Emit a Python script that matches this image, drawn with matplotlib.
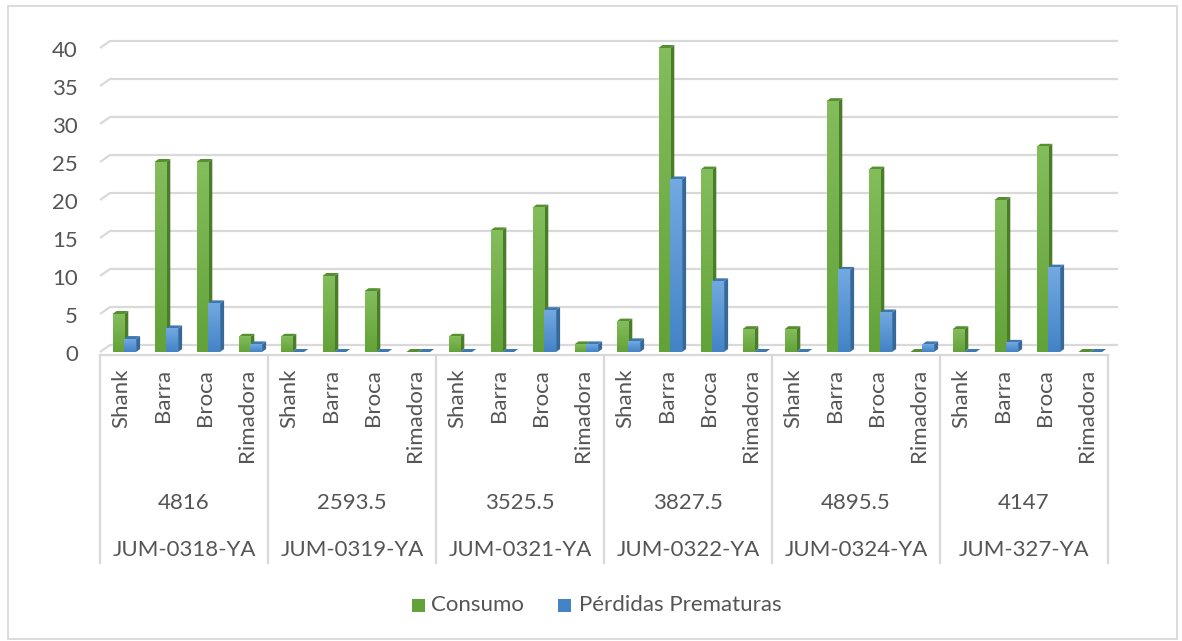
import numpy as np
import matplotlib
matplotlib.use("Agg")
import matplotlib.pyplot as plt
from matplotlib.patches import Polygon, Rectangle
from matplotlib.colors import LinearSegmentedColormap

# ---- data -------------------------------------------------------------
groups = ["JUM-0318-YA", "JUM-0319-YA", "JUM-0321-YA",
          "JUM-0322-YA", "JUM-0324-YA", "JUM-327-YA"]
group_values = ["4816", "2593.5", "3525.5", "3827.5", "4895.5", "4147"]
items = ["Shank", "Barra", "Broca", "Rimadora"]

consumo = [5, 25, 25, 2,
           2, 10, 8, 0,
           2, 16, 19, 1,
           4, 40, 24, 3,
           3, 33, 24, 0,
           3, 20, 27, 0]
perdidas = [1.7, 3.1, 6.4, 1.0,
            0, 0, 0, 0,
            0, 0, 5.5, 1.0,
            1.4, 22.7, 9.3, 0,
            0, 10.8, 5.2, 1.0,
            0, 1.2, 11.1, 0]
series_names = ["Consumo", "Pérdidas Prematuras"]
y_ticks = [0, 5, 10, 15, 20, 25, 30, 35, 40]

# ---- styling ----------------------------------------------------------
W, H = 1182, 641
TEXT = "#555555"
GRID = "#d9d9d9"
FONT = "Lato"
FS = 16

green = dict(top_grad="#84bd5c", bot_grad="#62a238", side="#4a7c29", cap="#558f30")
blue = dict(top_grad="#72a9e0", bot_grad="#4383c6", side="#35699b", cap="#3f77b0")

fig = plt.figure(figsize=(W / 100, H / 100), dpi=100)
fig.patch.set_facecolor("white")


def fx(px):
    return px / W


def fy(py):
    return 1 - py / H


# outer frame of the chart
fig.add_artist(Rectangle((fx(8), fy(639)), fx(1177) - fx(8), fy(6) - fy(639),
                         transform=fig.transFigure, fill=False,
                         edgecolor=GRID, linewidth=1.3))

# plotting axes: front plane, 24 category slots, 0..40
left, right, base, top = 100, 1108, 352, 48
ax = fig.add_axes([fx(left), fy(base), (right - left) / W, (base - top) / H])
n = len(consumo)
ax.set_xlim(0, n)
ax.set_ylim(0, 40)
ax.axis("off")

ux = n / (right - left)          # data units per pixel (x)
uy = 40 / (base - top)           # data units per pixel (y)

# back-wall gridlines with a short perspective slant
wall_dx, wall_dy = 10 * ux, 7 * uy
for v in y_ticks:
    ax.plot([0, wall_dx, n + wall_dx], [v, v + wall_dy, v + wall_dy],
            color=GRID, linewidth=1.6, clip_on=False, zorder=1,
            solid_capstyle="butt")


def bar3d(x0, x1, h, c):
    dx, dy = 4 * ux, 3 * uy
    side = Polygon([(x1, 0), (x1 + dx, dy), (x1 + dx, h + dy), (x1, h)],
                   closed=True, facecolor=c["side"], edgecolor="none",
                   clip_on=False, zorder=3)
    cap = Polygon([(x0, h), (x0 + dx, h + dy), (x1 + dx, h + dy), (x1, h)],
                  closed=True, facecolor=c["cap"], edgecolor="none",
                  clip_on=False, zorder=3)
    ax.add_patch(side)
    ax.add_patch(cap)
    if h > 0:
        cmap = LinearSegmentedColormap.from_list("g", [c["top_grad"], c["bot_grad"]])
        grad = np.linspace(0, 1, 64).reshape(-1, 1)
        im = ax.imshow(grad, cmap=cmap, extent=(x0, x1, 0, h), origin="upper",
                       aspect="auto", zorder=3, interpolation="bilinear")
        im.set_clip_on(False)


g0, g1, b1 = 12.5 / 42, 24.3 / 42, 36.1 / 42
for i in range(n):
    bar3d(i + g0, i + g1, consumo[i], green)
    bar3d(i + g1, i + b1, perdidas[i], blue)

ax.set_xlim(0, n)
ax.set_ylim(0, 40)

# y tick labels
for v in y_ticks:
    ypx = base - v / uy
    fig.text(fx(78), fy(ypx + 3), str(v), ha="right", va="center",
             fontsize=FS, color=TEXT, family=FONT)

# category table below the plot
slot = (right - left) / n
group_w = slot * len(items)
fig.add_artist(plt.Line2D([fx(left), fx(right)], [fy(355), fy(355)],
                          transform=fig.transFigure, color=GRID, linewidth=1.6))
for k in range(len(groups) + 1):
    xp = left + k * group_w
    fig.add_artist(plt.Line2D([fx(xp), fx(xp)], [fy(355), fy(563)],
                              transform=fig.transFigure, color=GRID,
                              linewidth=1.6))

for i in range(n):
    fig.text(fx(left + slot * (i + 0.5)), fy(369), items[i % len(items)],
             rotation=90, ha="center", va="top", fontsize=FS, color=TEXT,
             family=FONT)

for k, (g, gv) in enumerate(zip(groups, group_values)):
    xc = left + (k + 0.5) * group_w
    fig.text(fx(xc), fy(503), gv, ha="center", va="center",
             fontsize=FS, color=TEXT, family=FONT)
    fig.text(fx(xc), fy(550), g, ha="center", va="center",
             fontsize=FS, color=TEXT, family=FONT)

# legend
for (sx, tx), name, c in zip([(412, 431), (558, 579)], series_names,
                             [green, blue]):
    fig.add_artist(Rectangle((fx(sx), fy(612)), 13 / W, 13 / H,
                             transform=fig.transFigure,
                             facecolor=c["bot_grad"], edgecolor="none"))
    fig.text(fx(tx), fy(605), name, ha="left", va="center",
             fontsize=FS, color=TEXT, family=FONT)

fig.savefig("out.png", dpi=100, facecolor="white")
